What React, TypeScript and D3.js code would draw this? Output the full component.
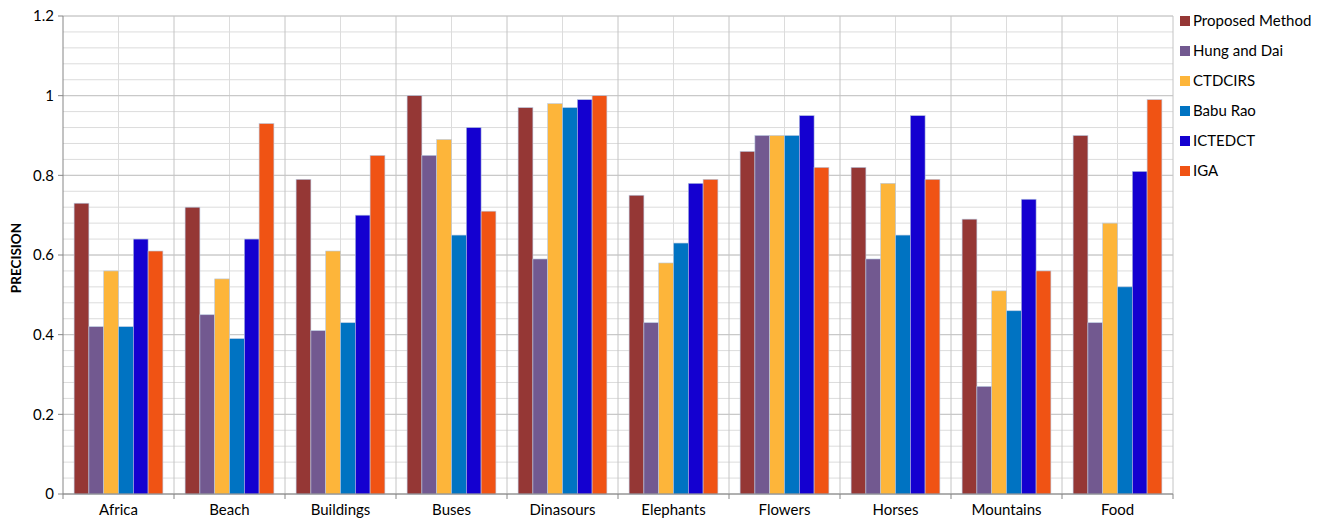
import React from "react";
import * as d3 from "d3";

const categories = ["Africa", "Beach", "Buildings", "Buses", "Dinasours", "Elephants", "Flowers", "Horses", "Mountains", "Food"];
const seriesNames = ["Proposed Method", "Hung and Dai", "CTDCIRS", "Babu Rao", "ICTEDCT", "IGA"];
const seriesColors = ["#953735", "#725990", "#fdb53a", "#0073c2", "#1400d0", "#f05314"];

const proposedMethod = [0.73, 0.72, 0.79, 1.0, 0.97, 0.75, 0.86, 0.82, 0.69, 0.9];
const hungAndDai = [0.42, 0.45, 0.41, 0.85, 0.59, 0.43, 0.9, 0.59, 0.27, 0.43];
const ctdcirs = [0.56, 0.54, 0.61, 0.89, 0.98, 0.58, 0.9, 0.78, 0.51, 0.68];
const babuRao = [0.42, 0.39, 0.43, 0.65, 0.97, 0.63, 0.9, 0.65, 0.46, 0.52];
const ictedct = [0.64, 0.64, 0.7, 0.92, 0.99, 0.78, 0.95, 0.95, 0.74, 0.81];
const iga = [0.61, 0.93, 0.85, 0.71, 1.0, 0.79, 0.82, 0.79, 0.56, 0.99];

const seriesValues = [proposedMethod, hungAndDai, ctdcirs, babuRao, ictedct, iga];
const yTicks = [0, 0.2, 0.4, 0.6, 0.8, 1, 1.2];

const W = 1324;
const H = 520;
const left = 63;
const right = 1173;
const top = 16;
const bottom = 494;
const font = "Lato, 'Open Sans', sans-serif";

export default function App() {
  const x = d3.scaleBand<string>().domain(categories).range([left, right]).paddingInner(0).paddingOuter(0);
  const inner = d3
    .scaleBand<string>()
    .domain(seriesNames)
    .range([0, x.bandwidth()])
    .paddingInner(0)
    .paddingOuter(0.75);
  const y = d3.scaleLinear().domain([0, 1.2]).range([bottom, top]);

  const minorY = d3.range(0, 1.2001, 0.04);
  const bw = x.bandwidth();

  return (
    <svg width={W} height={H} style={{ position: "absolute", left: 0, top: 0, background: "#fff" }}>
      {/* minor horizontal grid */}
      {minorY.map((v, i) => (
        <line key={"hy" + i} x1={left} x2={right} y1={y(v)} y2={y(v)} stroke="#dcdcdc" strokeWidth={1} />
      ))}
      {/* vertical grid: category midpoints and boundaries */}
      {categories.map((c) => (
        <line key={"mv" + c} x1={x(c)! + bw / 2} x2={x(c)! + bw / 2} y1={top} y2={bottom} stroke="#dcdcdc" strokeWidth={1} />
      ))}
      {categories.map((c, i) =>
        i === 0 ? null : (
          <line key={"bv" + c} x1={x(c)!} x2={x(c)!} y1={top} y2={bottom} stroke="#c4c4c4" strokeWidth={1} />
        )
      )}
      <line x1={right} x2={right} y1={top} y2={bottom} stroke="#c4c4c4" strokeWidth={1} />
      {/* major horizontal grid */}
      {yTicks.map((v) => (
        <line key={"my" + v} x1={left} x2={right} y1={y(v)} y2={y(v)} stroke="#c4c4c4" strokeWidth={1} />
      ))}

      {/* bars */}
      {categories.map((c, ci) =>
        seriesNames.map((s, si) => {
          const v = seriesValues[si][ci];
          return (
            <rect
              key={c + s}
              x={x(c)! + inner(s)!}
              y={y(v)}
              width={inner.bandwidth()}
              height={bottom - y(v)}
              fill={seriesColors[si]}
              stroke="#b8c9e0"
              strokeWidth={0.6}
            />
          );
        })
      )}

      {/* axes */}
      <line x1={left} x2={left} y1={top} y2={bottom} stroke="#868686" strokeWidth={1} />
      <line x1={left} x2={right} y1={bottom} y2={bottom} stroke="#868686" strokeWidth={1} />
      {yTicks.map((v) => (
        <g key={"yt" + v}>
          <line x1={left - 5} x2={left} y1={y(v)} y2={y(v)} stroke="#868686" />
          <text x={left - 9} y={y(v)} dy="0.35em" textAnchor="end" fontFamily={font} fontSize={15} fill="#000">
            {d3.format("~g")(v)}
          </text>
        </g>
      ))}
      {categories.map((c) => (
        <line key={"xt" + c} x1={x(c)!} x2={x(c)!} y1={bottom} y2={bottom + 5} stroke="#868686" />
      ))}
      <line x1={right} x2={right} y1={bottom} y2={bottom + 5} stroke="#868686" />
      {categories.map((c) => (
        <text key={"xl" + c} x={x(c)! + bw / 2} y={515} textAnchor="middle" fontFamily={font} fontSize={15} fill="#000">
          {c}
        </text>
      ))}

      <text
        transform={`translate(21,${(top + bottom) / 2 + 3}) rotate(-90)`}
        textAnchor="middle"
        fontFamily={font}
        fontWeight="bold"
        fontSize={13.5}
        fill="#000"
      >
        PRECISION
      </text>

      {/* legend */}
      {seriesNames.map((s, i) => (
        <g key={"lg" + s} transform={`translate(1180,${21 + i * 30})`}>
          <rect x={0} y={-5} width={10} height={10} fill={seriesColors[i]} />
          <text x={13} y={0} dy="0.35em" fontFamily={font} fontSize={15} fill="#000">
            {s}
          </text>
        </g>
      ))}
    </svg>
  );
}
